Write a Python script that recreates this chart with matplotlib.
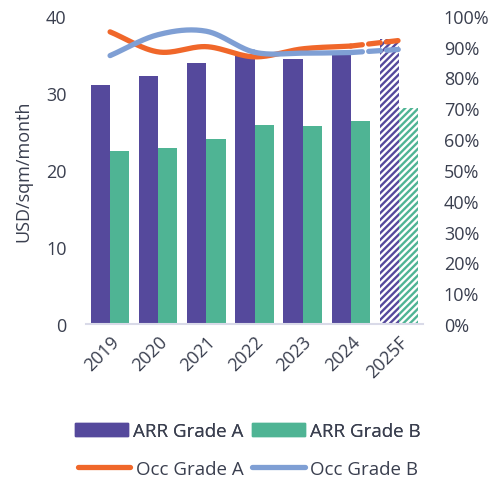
import numpy as np
import matplotlib
matplotlib.use("Agg")
import matplotlib.pyplot as plt
from matplotlib.patches import Patch
from matplotlib.lines import Line2D

plt.rcParams['font.family'] = ['Open Sans', 'DejaVu Sans']
plt.rcParams['hatch.linewidth'] = 1.7

# Data
years = ["2019", "2020", "2021", "2022", "2023", "2024", "2025F"]
arr_a = [31.0, 32.2, 33.9, 34.8, 34.4, 35.0, 37.0]
arr_b = [22.4, 22.8, 24.0, 25.9, 25.7, 26.3, 28.0]
occ_a = [0.948, 0.883, 0.900, 0.867, 0.893, 0.902, 0.920]
occ_b = [0.871, 0.939, 0.950, 0.882, 0.879, 0.881, 0.891]

purple = "#55499C"
green = "#4FB494"
orange = "#F0672A"
blue = "#7F9FD4"
txt = "#3A3F4F"


def smooth(xs, ys, n=30):
    # Catmull-Rom curve through the points (like Excel's smoothed line)
    xs = np.asarray(xs, float)
    ys = np.asarray(ys, float)
    px = np.concatenate([[2 * xs[0] - xs[1]], xs, [2 * xs[-1] - xs[-2]]])
    py = np.concatenate([[2 * ys[0] - ys[1]], ys, [2 * ys[-1] - ys[-2]]])
    ox, oy = [], []
    t = np.linspace(0, 1, n)
    for i in range(1, len(px) - 2):
        for p, o in ((px, ox), (py, oy)):
            p0, p1, p2, p3 = p[i - 1], p[i], p[i + 1], p[i + 2]
            o.extend(0.5 * ((2 * p1) + (-p0 + p2) * t
                            + (2 * p0 - 5 * p1 + 4 * p2 - p3) * t ** 2
                            + (-p0 + 3 * p1 - 3 * p2 + p3) * t ** 3))
    return np.array(ox), np.array(oy)


fig = plt.figure(figsize=(5.03, 4.81), dpi=100)
ax = fig.add_axes([0.171, 0.324, 0.670, 0.641])
ax2 = ax.twinx()

x = np.arange(len(years))
w = 0.4
for i in range(len(years)):
    if years[i].endswith("F"):
        ax.bar(x[i] - w / 2, arr_a[i], w, facecolor="white", edgecolor=purple,
               hatch="/////", linewidth=0)
        ax.bar(x[i] + w / 2, arr_b[i], w, facecolor="white", edgecolor=green,
               hatch="/////", linewidth=0)
    else:
        ax.bar(x[i] - w / 2, arr_a[i], w, color=purple)
        ax.bar(x[i] + w / 2, arr_b[i], w, color=green)

# occupancy lines: solid for actuals, dashed to forecast
for vals, c in ((occ_a, orange), (occ_b, blue)):
    sx, sy = smooth(x[:-1], vals[:-1])
    ax2.plot(sx, sy, color=c, lw=3.8, solid_capstyle="round", zorder=3)
    ax2.plot(x[-2:], vals[-2:], color=c, lw=3.8, linestyle=(0, (2.2, 1.2)),
             dash_capstyle="round", zorder=3)

ax.set_xlim(-0.5, len(years) - 0.5)
ax.set_ylim(0, 40)
ax.set_yticks([0, 10, 20, 30, 40])
ax2.set_ylim(0, 1)
ax2.set_yticks(np.arange(0, 1.01, 0.1))
ax2.set_yticklabels([f"{int(round(v * 100))}%" for v in np.arange(0, 1.01, 0.1)])

ax.set_xticks(x)
ax.set_xticklabels(years, rotation=45, ha="right", rotation_mode="anchor")
ax.set_ylabel("USD/sqm/month", fontsize=13, color=txt, labelpad=10)

for a in (ax, ax2):
    for s in a.spines.values():
        s.set_visible(False)
    a.tick_params(length=0, labelsize=13, colors=txt)
ax.tick_params(axis="y", pad=14)
ax.tick_params(axis="x", pad=6)
ax2.tick_params(axis="y", pad=15)
ax.spines["bottom"].set_visible(True)
ax.spines["bottom"].set_color("#D9DAE8")
ax.spines["bottom"].set_linewidth(1.5)

h1 = [Patch(color=purple, label="ARR Grade A"), Patch(color=green, label="ARR Grade B")]
h2 = [Line2D([], [], color=orange, lw=3.8, solid_capstyle="round", label="Occ Grade A"),
      Line2D([], [], color=blue, lw=3.8, solid_capstyle="round", label="Occ Grade B")]
leg1 = fig.legend(handles=h1, loc="center", ncol=2,
                  frameon=False, fontsize=13.5, handlelength=2.8, handleheight=0.65,
                  handletextpad=0.3, columnspacing=0.45, labelcolor=txt)
leg1.set_bbox_to_anchor((0.493, 1 - 432 / 481), transform=fig.transFigure)
leg2 = fig.legend(handles=h2, loc="center", ncol=2,
                  frameon=False, fontsize=13.5, handlelength=2.8,
                  handletextpad=0.3, columnspacing=0.45, labelcolor=txt)
leg2.set_bbox_to_anchor((0.493, 1 - 470 / 481), transform=fig.transFigure)
fig.add_artist(leg1)

fig.savefig("out.png", dpi=100)
